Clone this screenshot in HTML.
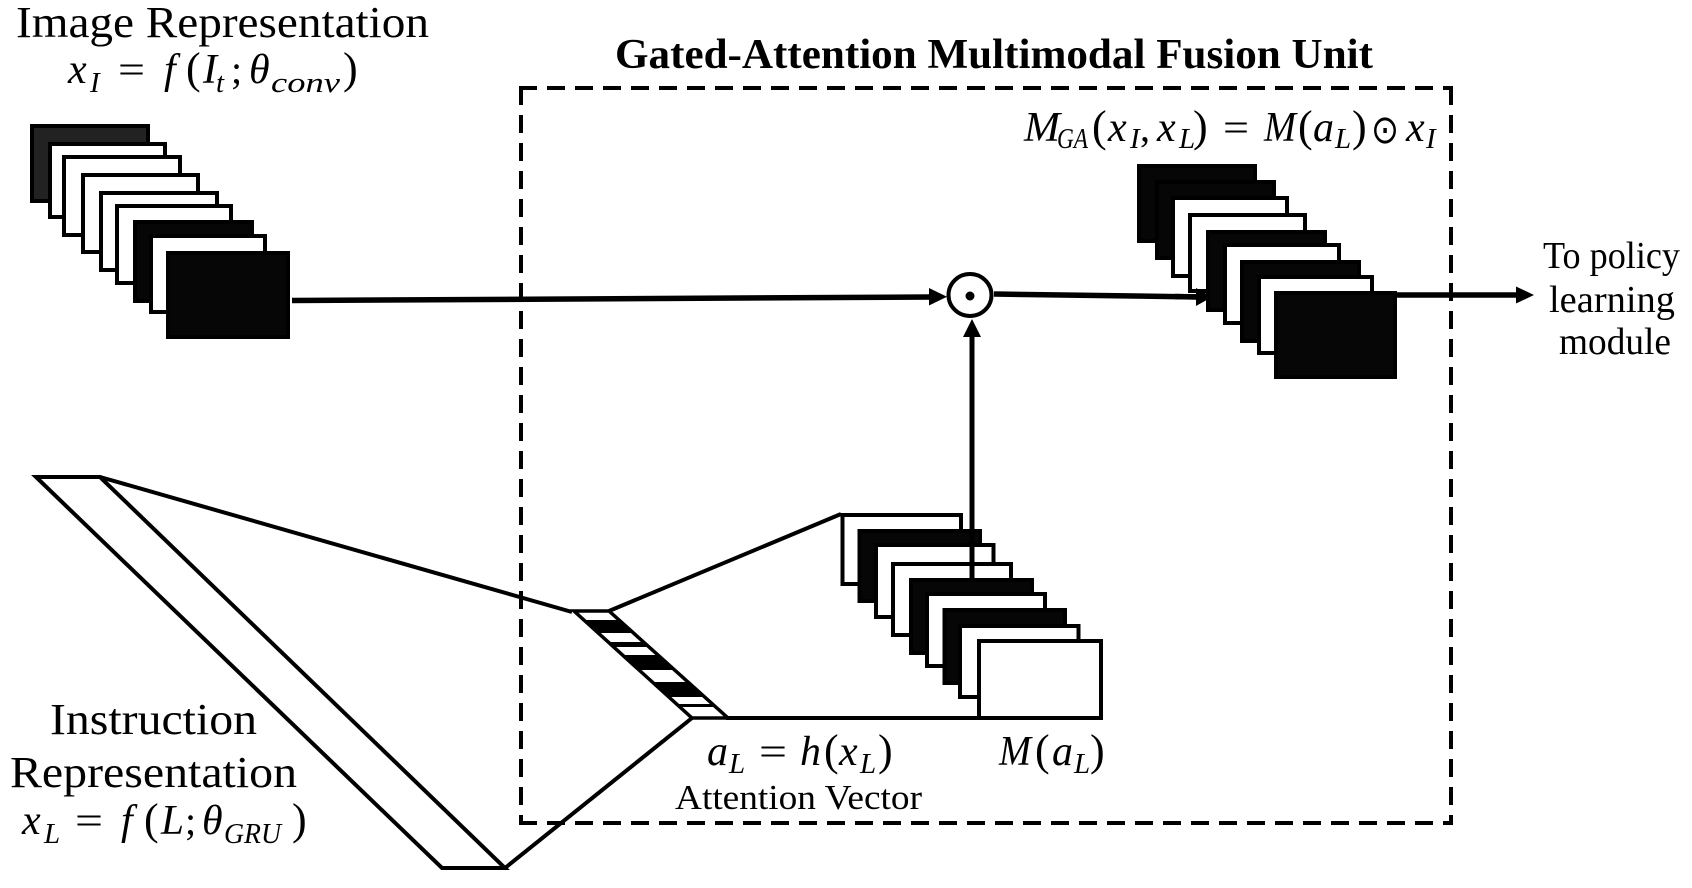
<!DOCTYPE html>
<html><head><meta charset="utf-8"><style>
html,body{margin:0;padding:0;background:#fff;width:1692px;height:888px;overflow:hidden}
svg{display:block}
text{font-family:"Liberation Serif",serif;fill:#000}
.m{font-style:italic;font-size:42px}
.u{font-size:44px}
.e{font-size:40px}
.s{font-style:italic;font-size:29px}
.l{font-size:44px}
rect{stroke:#000;stroke-width:4}
.w{fill:#fff}.b{fill:#060606}
line,polyline{stroke:#000;fill:none}
</style></head><body>
<svg width="1692" height="888" viewBox="0 0 1692 888" xmlns="http://www.w3.org/2000/svg">
<!-- dashed box -->
<g stroke="#000" stroke-width="4" stroke-dasharray="18 10" fill="none">
<line x1="519" y1="88" x2="1453" y2="88"/>
<line x1="519" y1="823" x2="1453" y2="823"/>
<line x1="521" y1="87" x2="521" y2="825"/>
<line x1="1451" y1="87" x2="1451" y2="825"/>
</g>

<!-- left stack -->
<rect x="32" y="126" width="116" height="75" fill="#222"/>
<rect class="w" x="50" y="144" width="115" height="73"/>
<rect class="w" x="64" y="157" width="116" height="78"/>
<rect class="w" x="83" y="175" width="115" height="77"/>
<rect class="w" x="101" y="193" width="116" height="77"/>
<rect class="w" x="117" y="206" width="114" height="77"/>
<rect class="b" x="135" y="222" width="117" height="79"/>
<rect class="w" x="151" y="236" width="114" height="76"/>
<rect class="b" x="168" y="253" width="120" height="84"/>

<!-- main line to circle -->
<line x1="292" y1="300.5" x2="932" y2="297" stroke-width="5.5"/>
<polygon points="929,288 947,296.7 929,305.5" fill="#000"/>
<ellipse cx="970" cy="295" rx="21.5" ry="21" fill="#fff" stroke="#000" stroke-width="4"/>
<circle cx="970" cy="296" r="4.5" fill="#000"/>

<!-- circle to right stack -->
<line x1="994" y1="294" x2="1200" y2="297" stroke-width="5.5"/>

<!-- right stack -->
<rect class="b" x="1139" y="166" width="116" height="75"/>
<rect class="b" x="1157" y="182" width="117" height="76"/>
<rect class="w" x="1173" y="198" width="114" height="78"/>
<rect class="w" x="1190" y="215" width="115" height="76"/>
<line x1="1175" y1="296.5" x2="1200" y2="297" stroke-width="5.5"/>
<polygon points="1196,288 1212,297 1196,306" fill="#000"/>
<rect class="b" x="1208" y="232" width="117" height="78"/>
<rect class="w" x="1225" y="245" width="114" height="78"/>
<rect class="b" x="1242" y="262" width="117" height="79"/>
<rect class="w" x="1259" y="277" width="113" height="76"/>
<rect class="b" x="1276" y="293" width="119" height="84"/>

<!-- output arrow -->
<line x1="1397" y1="295" x2="1518" y2="295" stroke-width="5.5"/>
<polygon points="1516,286.5 1534,295 1516,303.5" fill="#000"/>

<!-- instruction parallelogram and fan -->
<polygon points="36,477 100,477 505,868 442,868" fill="#fff" stroke="#000" stroke-width="4"/>
<line x1="100" y1="477" x2="572" y2="612" stroke-width="4"/>
<line x1="505" y1="868" x2="692" y2="718" stroke-width="4"/>
<line x1="609" y1="611" x2="841" y2="514" stroke-width="4"/>
<line x1="726" y1="718" x2="980" y2="718" stroke-width="4"/>

<!-- attention vector -->
<polygon points="574,611 609,611 728,718 692,718" fill="#fff"/>
<g fill="#000">
<polygon points="584,620 619,620 633,633 598,633"/>
<polygon points="622,655 657,655 674,670 639,670"/>
<polygon points="652,682 687,682 704,697 669,697"/>
<polygon points="608,642 643,642 649,647 614,647"/>
<polygon points="677,704 712,704 715,707 680,707"/>
</g>
<polygon points="574,611 609,611 728,718 692,718" fill="none" stroke="#000" stroke-width="3.5"/>

<!-- M(a_L) stack -->
<rect class="w" x="842.5" y="515" width="118.5" height="69"/>
<rect class="b" x="859.5" y="531" width="120.5" height="70"/>
<rect class="w" x="876" y="545" width="117.5" height="72"/>
<rect class="w" x="893" y="564" width="118" height="71"/>
<line x1="972" y1="580" x2="972" y2="335" stroke-width="5"/>
<polygon points="963,337 972,319 981,337" fill="#000"/>
<rect class="b" x="911" y="580" width="121" height="73"/>
<rect class="w" x="927" y="594" width="118" height="72"/>
<rect class="b" x="944.5" y="610" width="120.5" height="73"/>
<rect class="w" x="960" y="626" width="118.5" height="71"/>
<rect class="w" x="979" y="641" width="122" height="77"/>

<!-- plain labels -->
<text class="l" x="16" y="37" textLength="413" lengthAdjust="spacingAndGlyphs">Image Representation</text>
<text x="615" y="68" font-size="42" font-weight="bold" textLength="758" lengthAdjust="spacingAndGlyphs">Gated-Attention Multimodal Fusion Unit</text>
<text class="l" x="50" y="734" textLength="207" lengthAdjust="spacingAndGlyphs">Instruction</text>
<text class="l" x="10" y="787" textLength="287" lengthAdjust="spacingAndGlyphs">Representation</text>
<text x="675" y="809" font-size="35" textLength="247" lengthAdjust="spacingAndGlyphs">Attention Vector</text>
<text x="1543" y="268" font-size="38" textLength="137" lengthAdjust="spacingAndGlyphs">To policy</text>
<text x="1549" y="312" font-size="38" textLength="126" lengthAdjust="spacingAndGlyphs">learning</text>
<text x="1559" y="354" font-size="38" textLength="112" lengthAdjust="spacingAndGlyphs">module</text>

<!-- x_I = f(I_t; theta_conv) -->
<text class="m" x="68" y="83">x</text><text class="s" x="90" y="92">I</text>
<text class="e" x="118" y="83" textLength="27" lengthAdjust="spacingAndGlyphs">=</text>
<text class="m" x="164" y="83">f</text><text class="u" x="186" y="83">(</text>
<text class="m" x="203" y="83">I</text><text class="s" x="216" y="92">t</text>
<text class="e" x="231" y="83">;</text><text class="m" x="249" y="83">θ</text>
<text class="s" x="271" y="92" textLength="69" lengthAdjust="spacingAndGlyphs">conv</text>
<text class="u" x="343" y="83">)</text>

<!-- M_GA formula -->
<text class="m" x="1024" y="141" textLength="36" lengthAdjust="spacingAndGlyphs">M</text>
<text class="s" x="1057" y="148" textLength="31" lengthAdjust="spacingAndGlyphs">GA</text>
<text class="u" x="1092" y="141">(</text><text class="m" x="1108" y="141">x</text>
<text class="s" x="1130" y="148">I</text><text class="e" x="1140" y="141">,</text>
<text class="m" x="1157" y="141">x</text><text class="s" x="1179" y="148">L</text>
<text class="u" x="1193" y="141">)</text>
<text class="e" x="1223" y="141" textLength="26" lengthAdjust="spacingAndGlyphs">=</text>
<text class="m" x="1264" y="141" textLength="32" lengthAdjust="spacingAndGlyphs">M</text>
<text class="u" x="1298" y="141">(</text><text class="m" x="1313" y="141">a</text>
<text class="s" x="1335" y="148">L</text><text class="u" x="1352" y="141">)</text>
<text x="1371" y="143" style="font-family:'DejaVu Sans',sans-serif" font-size="40" textLength="28" lengthAdjust="spacingAndGlyphs">⊙</text>
<text class="m" x="1406" y="141">x</text><text class="s" x="1426" y="148">I</text>

<!-- x_L formula -->
<text class="m" x="22" y="834">x</text><text class="s" x="44" y="843">L</text>
<text class="e" x="75" y="834" textLength="28" lengthAdjust="spacingAndGlyphs">=</text>
<text class="m" x="121" y="834">f</text><text class="u" x="144" y="834">(</text>
<text class="m" x="161" y="834" textLength="23" lengthAdjust="spacingAndGlyphs">L</text>
<text class="e" x="185" y="834">;</text><text class="m" x="202" y="834">θ</text>
<text class="s" x="224" y="843" textLength="57" lengthAdjust="spacingAndGlyphs">GRU</text>
<text class="u" x="292" y="834">)</text>

<!-- a_L = h(x_L) -->
<text class="m" x="707" y="765">a</text><text class="s" x="729" y="773">L</text>
<text class="e" x="759" y="765" textLength="28" lengthAdjust="spacingAndGlyphs">=</text>
<text class="m" x="800" y="765">h</text><text class="u" x="824" y="765">(</text>
<text class="m" x="839" y="765">x</text><text class="s" x="860" y="773">L</text>
<text class="u" x="878" y="765">)</text>

<!-- M(a_L) -->
<text class="m" x="999" y="765" textLength="32" lengthAdjust="spacingAndGlyphs">M</text>
<text class="u" x="1035" y="765">(</text><text class="m" x="1052" y="765">a</text>
<text class="s" x="1074" y="773">L</text><text class="u" x="1090" y="765">)</text>
</svg>
</body></html>
